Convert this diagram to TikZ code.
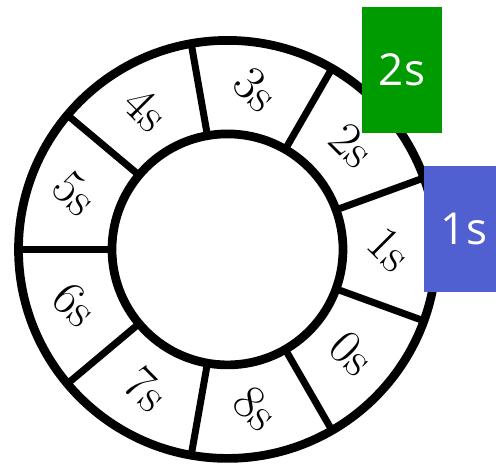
\documentclass[tikz,border=0pt]{standalone}
\usepackage{fontspec}
\newfontfamily\boxfont{Open Sans}
\usetikzlibrary{calc}
\definecolor{tgreen}{RGB}{0,155,0}
\definecolor{tblue}{RGB}{80,96,208}
\begin{document}
\begin{tikzpicture}[x=1pt,y=1pt,
  ring/.style={line width=8.7pt},
  spoke/.style={line width=7pt},
  lab/.style={rotate=-45, font=\fontsize{49}{56}\selectfont, inner sep=0pt},
  tagbox/.style={minimum width=80pt, minimum height=126pt, inner sep=0pt, text=white,
    font=\boxfont\fontsize{44}{50}\selectfont}]
\useasboundingbox (0,0) rectangle (496,464);
\clip (0,0) rectangle (496,464);
\coordinate (c) at (227.5,214.6);
\foreach \a in {20,60,...,340}
  \draw[spoke] ($(c)+(\a:115.5)$) -- ($(c)+(\a:209)$);
\draw[ring] (c) circle[radius=209];
\draw[ring] (c) circle[radius=115.5];
\foreach \t [count=\i from 0] in {1,2,3,4,5,6,7,8,0}
  \node[lab] (l\t) at ($(c)+(40*\i:162)$) {\t s};
\node[tagbox, fill=tgreen] (g) at (402,394) {2s};
\node[tagbox, fill=tblue] (b) at (464,235) {1s};
\end{tikzpicture}
\end{document}
